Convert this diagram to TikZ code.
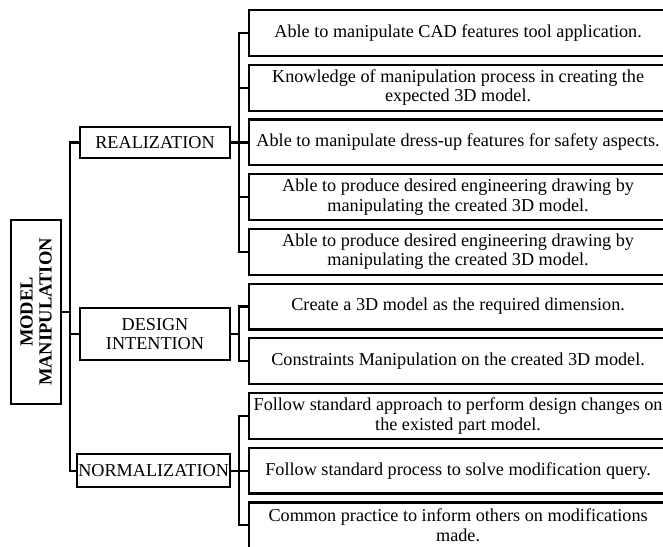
\documentclass[tikz,border=0pt]{standalone}
\usepackage{fontspec}
\setmainfont{Liberation Serif}
\usetikzlibrary{positioning,calc}
\tikzset{
  plain box/.style={
    shape = rectangle,
    draw,
    line width=2.2pt,
    },
  item box/.style ={
    plain box,
    align=center,
    inner xsep=1pt,
    minimum width=418pt,
    minimum height=45.8pt,
    },
  group box/.style ={
    plain box,
    align=center,
    inner xsep=1pt,
    minimum width=149.8pt,
    minimum height=31pt,
    },
  root box/.style ={
    plain box,
    align=center,
    font=\fontsize{18.5}{19}\selectfont\bfseries,
    rotate=90,
    minimum width=183.8pt,
    minimum height=49.8pt,
    },
}
\tikzstyle{Branch} = [line width=2.2pt]

\begin{document}
\begin{tikzpicture}[x=1pt,y=-1pt,node distance=6.7pt,
    font=\fontsize{18.2}{19.5}\selectfont]
\clip (0,0) rectangle (663,546);

    % Items
    \node[item box,anchor=north west] (r1) at (248,9)
        {Able to manipulate CAD features tool application.};
    \node[item box,below=of r1] (r2)
        {Knowledge of manipulation process in creating the\\expected 3D model.};
    \node[item box,below=of r2] (r3)
        {Able to manipulate dress-up features for safety aspects.};
    \node[item box,below=of r3] (r4)
        {Able to produce desired engineering drawing by\\manipulating the created 3D model.};
    \node[item box,below=of r4] (r5)
        {Able to produce desired engineering drawing by\\manipulating the created 3D model.};
    \node[item box,below=of r5] (r6)
        {Create a 3D model as the required dimension.};
    \node[item box,below=of r6] (r7)
        {Constraints Manipulation on the created 3D model.};
    \node[item box,below=of r7] (r8)
        {Follow standard approach to perform design changes on\\the existed part model.};
    \node[item box,below=of r8] (r9)
        {Follow standard process to solve modification query.};
    \node[item box,below=of r9] (r10)
        {Common practice to inform others on modifications\\made.};

    % Groups
    \node[group box,left=17pt of r3] (real) {REALIZATION};
    \coordinate (mid) at ($(r6.west)!.5!(r7.west)$);
    \node[group box,minimum height=51.8pt,left=17pt of mid] (design)
        {DESIGN\\INTENTION};
    \node[group box,minimum height=33pt,left=17pt of r9] (norm) {NORMALIZATION};

    \node[root box] (model) at (36,312) {MODEL\\MANIPULATION};

    % Branches
    \draw[Branch] (model.south) -- ++(8,0) |- (real.west);
    \draw[Branch] (model.south) -- ++(8,0) |- (design.west);
    \draw[Branch] (model.south) -- ++(8,0) |- (norm.west);

    \foreach \i in {1,...,5}
        \draw[Branch] (real.east) -- ++(8,0) |- (r\i.west);
    \foreach \i in {6,7}
        \draw[Branch] (design.east) -- ++(8,0) |- (r\i.west);
    \foreach \i in {8,9,10}
        \draw[Branch] (norm.east) -- ++(8,0) |- (r\i.west);

\end{tikzpicture}
\end{document}
